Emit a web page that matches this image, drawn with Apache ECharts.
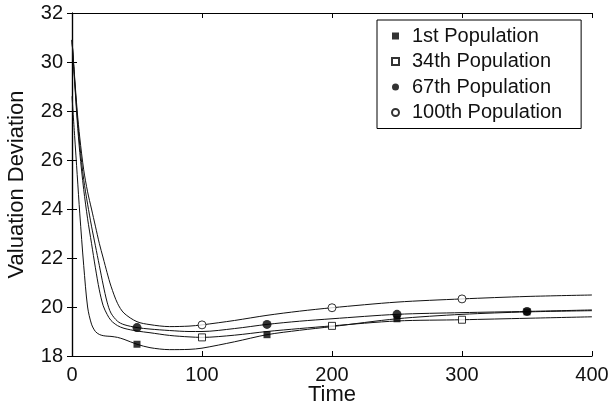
<!DOCTYPE html>
<html>
<head>
<meta charset="utf-8">
<script src="https://cdn.jsdelivr.net/npm/echarts@6/dist/echarts.min.js"></script>
<style>
  html, body { margin: 0; padding: 0; background: #fff; }
  #chart { width: 609px; height: 413px; }
</style>
</head>
<body>
<div id="chart"></div>
<script>
// time steps shared by all four curves
const timeSteps = [0, 2, 4, 6, 9, 12, 15, 18, 21, 24, 27, 30, 35, 40, 50, 60, 75, 90, 100, 125, 150, 175, 200, 250, 300, 350, 400]

const pop1 = [28.6, 27.0, 25.4, 23.8, 21.7, 20.0, 19.3, 19.0, 18.88, 18.83, 18.81, 18.8, 18.76, 18.68, 18.48, 18.34, 18.26, 18.27, 18.32, 18.58, 18.87, 19.05, 19.2, 19.52, 19.7, 19.8, 19.85]
const pop34 = [30.9, 29.2, 27.6, 26.3, 24.8, 23.6, 22.6, 21.6, 20.7, 20.05, 19.7, 19.45, 19.24, 19.13, 19.02, 18.95, 18.84, 18.78, 18.76, 18.85, 19.0, 19.12, 19.23, 19.43, 19.48, 19.54, 19.6]
const pop67 = [30.9, 29.3, 27.8, 26.6, 25.2, 24.2, 23.3, 22.5, 21.7, 20.9, 20.2, 19.75, 19.42, 19.28, 19.16, 19.1, 19.04, 19.0, 19.0, 19.12, 19.29, 19.42, 19.52, 19.7, 19.77, 19.82, 19.88]
const pop100 = [30.9, 29.4, 28.0, 26.9, 25.6, 24.7, 24.0, 23.3, 22.6, 22.0, 21.4, 20.85, 20.15, 19.75, 19.4, 19.28, 19.2, 19.22, 19.27, 19.45, 19.66, 19.83, 19.97, 20.2, 20.33, 20.43, 20.49]

// where the markers sit on each curve
const marks1 = [50, 150, 250, 350]
const marks34 = [100, 200, 300]
const marks67 = [50, 150, 250, 350]
const marks100 = [100, 200, 300]

const names = ['1st Population', '34th Population', '67th Population', '100th Population']

const font = 'Liberation Sans'

function pairs(values) {
    return timeSteps.map((t, i) => [t, values[i]])
}

function pick(values, marks) {
    return marks.map(t => [t, values[timeSteps.indexOf(t)]])
}

function curve(values) {
    return {
        type: 'line',
        data: pairs(values),
        smooth: 0.3,
        showSymbol: false,
        silent: true,
        lineStyle: { color: '#111', width: 1 },
        z: 2
    }
}

function markers(name, values, marks, symbol, filled, size) {
    return {
        type: 'scatter',
        name,
        data: pick(values, marks),
        symbol,
        symbolSize: size,
        itemStyle: filled
            ? { color: '#000' }
            : { color: '#fff', borderColor: '#000', borderWidth: 1 },
        z: 5
    }
}

const tickStyle = { show: true, inside: true, length: 5, lineStyle: { color: '#000', width: 1 } }
const lineStyle = { show: true, lineStyle: { color: '#000', width: 1.2 } }

const chart = echarts.init(document.getElementById('chart'))
chart.setOption({
    animation: false,
    backgroundColor: '#fff',
    grid: { left: 72, right: 17, top: 13, bottom: 57, outerBoundsMode: 'none', containLabel: false },
    legend: {
        data: names,
        orient: 'vertical',
        left: 377,
        top: 20,
        padding: [5, 19, 5, 14],
        itemWidth: 7,
        itemHeight: 7,
        itemGap: 3.5,
        symbolKeepAspect: true,
        backgroundColor: '#fff',
        borderColor: '#000',
        borderWidth: 1,
        textStyle: { fontFamily: font, fontSize: 20, lineHeight: 22, color: '#111', padding: [0, 0, 0, 8] }
    },
    xAxis: [
        {
            type: 'value', min: 0, max: 400, interval: 100,
            name: 'Time', nameLocation: 'middle', nameGap: 28, nameMoveOverlap: false,
            nameTextStyle: { fontFamily: font, fontSize: 22, color: '#111' },
            axisLine: lineStyle, axisTick: tickStyle, splitLine: { show: false },
            axisLabel: { fontFamily: font, fontSize: 20, color: '#111', margin: 9 }
        },
        {
            type: 'value', min: 0, max: 400, interval: 100, position: 'top',
            axisLine: lineStyle, axisTick: tickStyle, splitLine: { show: false },
            axisLabel: { show: false }
        }
    ],
    yAxis: [
        {
            type: 'value', min: 18, max: 32, interval: 2,
            name: 'Valuation Deviation', nameLocation: 'middle', nameGap: 44, nameMoveOverlap: false,
            nameTextStyle: { fontFamily: font, fontSize: 22, color: '#111' },
            axisLine: lineStyle, axisTick: tickStyle, splitLine: { show: false },
            axisLabel: { fontFamily: font, fontSize: 20, color: '#111', margin: 9 }
        },
        {
            type: 'value', min: 18, max: 32, interval: 2, position: 'right',
            axisLine: lineStyle, axisTick: tickStyle, splitLine: { show: false },
            axisLabel: { show: false }
        }
    ],
    series: [
        curve(pop1),
        curve(pop34),
        curve(pop67),
        curve(pop100),
        markers(names[0], pop1, marks1, 'rect', true, 7),
        markers(names[1], pop34, marks34, 'rect', false, 7),
        markers(names[2], pop67, marks67, 'circle', true, 9),
        markers(names[3], pop100, marks100, 'circle', false, 8)
    ]
})
</script>
</body>
</html>
